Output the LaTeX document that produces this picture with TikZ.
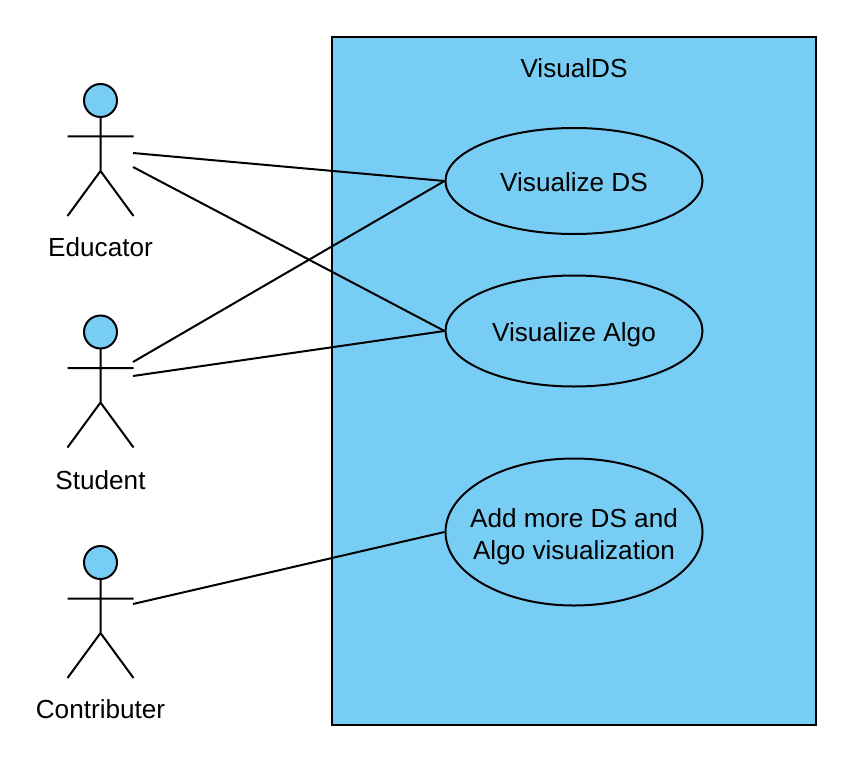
\documentclass[tikz,border=0pt]{standalone}
\usepackage{fontspec}
\setmainfont{Liberation Sans}
\usetikzlibrary{shapes.geometric}
\definecolor{fillblue}{HTML}{78CDF5}
\tikzset{
  lw/.style={line width=1.5pt, draw=black},
  usecase/.style={ellipse, lw, fill=fillblue, inner sep=0pt},
  lab/.style={inner sep=0pt, align=center, font=\fontsize{19.6}{24}\selectfont},
  conn/.style={lw},
}
\newcommand{\actor}[3]{% name, x, ytop of head
  \begin{scope}[x=0.75pt,y=-0.75pt,shift={(#2,#3)}]
    \node[circle,lw,fill=fillblue,minimum size=24.75pt,inner sep=0pt] (#1head) at (0,16.5) {};
    \coordinate (#1neck) at (0,33);
    \coordinate (#1hip) at (0,87);
    \coordinate (#1hand) at (33,52.5);
    \coordinate (#1handl) at (-33,52.5);
    \coordinate (#1foota) at (-33,132);
    \coordinate (#1footb) at (33,132);
    \draw[lw] (#1neck) -- (#1hip) (#1handl) -- (#1hand) (#1foota) -- (#1hip) -- (#1footb);
  \end{scope}}
\begin{document}
\begin{tikzpicture}[x=0.75pt,y=-0.75pt]
\useasboundingbox (0,0) rectangle (859,756);
\fill[white] (0,0) rectangle (859,756);
\node[rectangle,lw,fill=fillblue,minimum width=363pt,minimum height=516pt,inner sep=0pt,anchor=north west] (sys) at (331,36) {};
\node[lab] (title) at (574,68) {VisualDS};
\node[usecase,minimum width=192.75pt,minimum height=79.5pt] (uc1) at (574,181) {};
\node[usecase,minimum width=192.75pt,minimum height=83.25pt] (uc2) at (574,331) {};
\node[usecase,minimum width=192.75pt,minimum height=110.25pt] (uc3) at (574,532) {};
\node[lab,anchor=base] (uc1t) at (574,191) {Visualize DS};
\node[lab,anchor=base] (uc2t) at (574,341.5) {Visualize Algo};
\node[lab,anchor=base] (uc3t) at (574,559) {Add more DS and\\Algo visualization};
\actor{a}{100.5}{84}
\actor{b}{100.5}{315.5}
\actor{c}{100.5}{546}
\node[lab] (la) at (100.5,247) {Educator};
\node[lab] (lb) at (100.5,480) {Student};
\node[lab] (lc) at (100.5,709) {Contributer};
\coordinate (a1) at (133,153);
\coordinate (a2) at (133,167);
\coordinate (b1) at (133,362);
\coordinate (b2) at (133,376);
\coordinate (c1) at (133,604);
\draw[conn] (a1) -- (uc1.west);
\draw[conn] (a2) -- (uc2.west);
\draw[conn] (b1) -- (uc1.west);
\draw[conn] (b2) -- (uc2.west);
\draw[conn] (c1) -- (uc3.west);
\end{tikzpicture}
\end{document}
